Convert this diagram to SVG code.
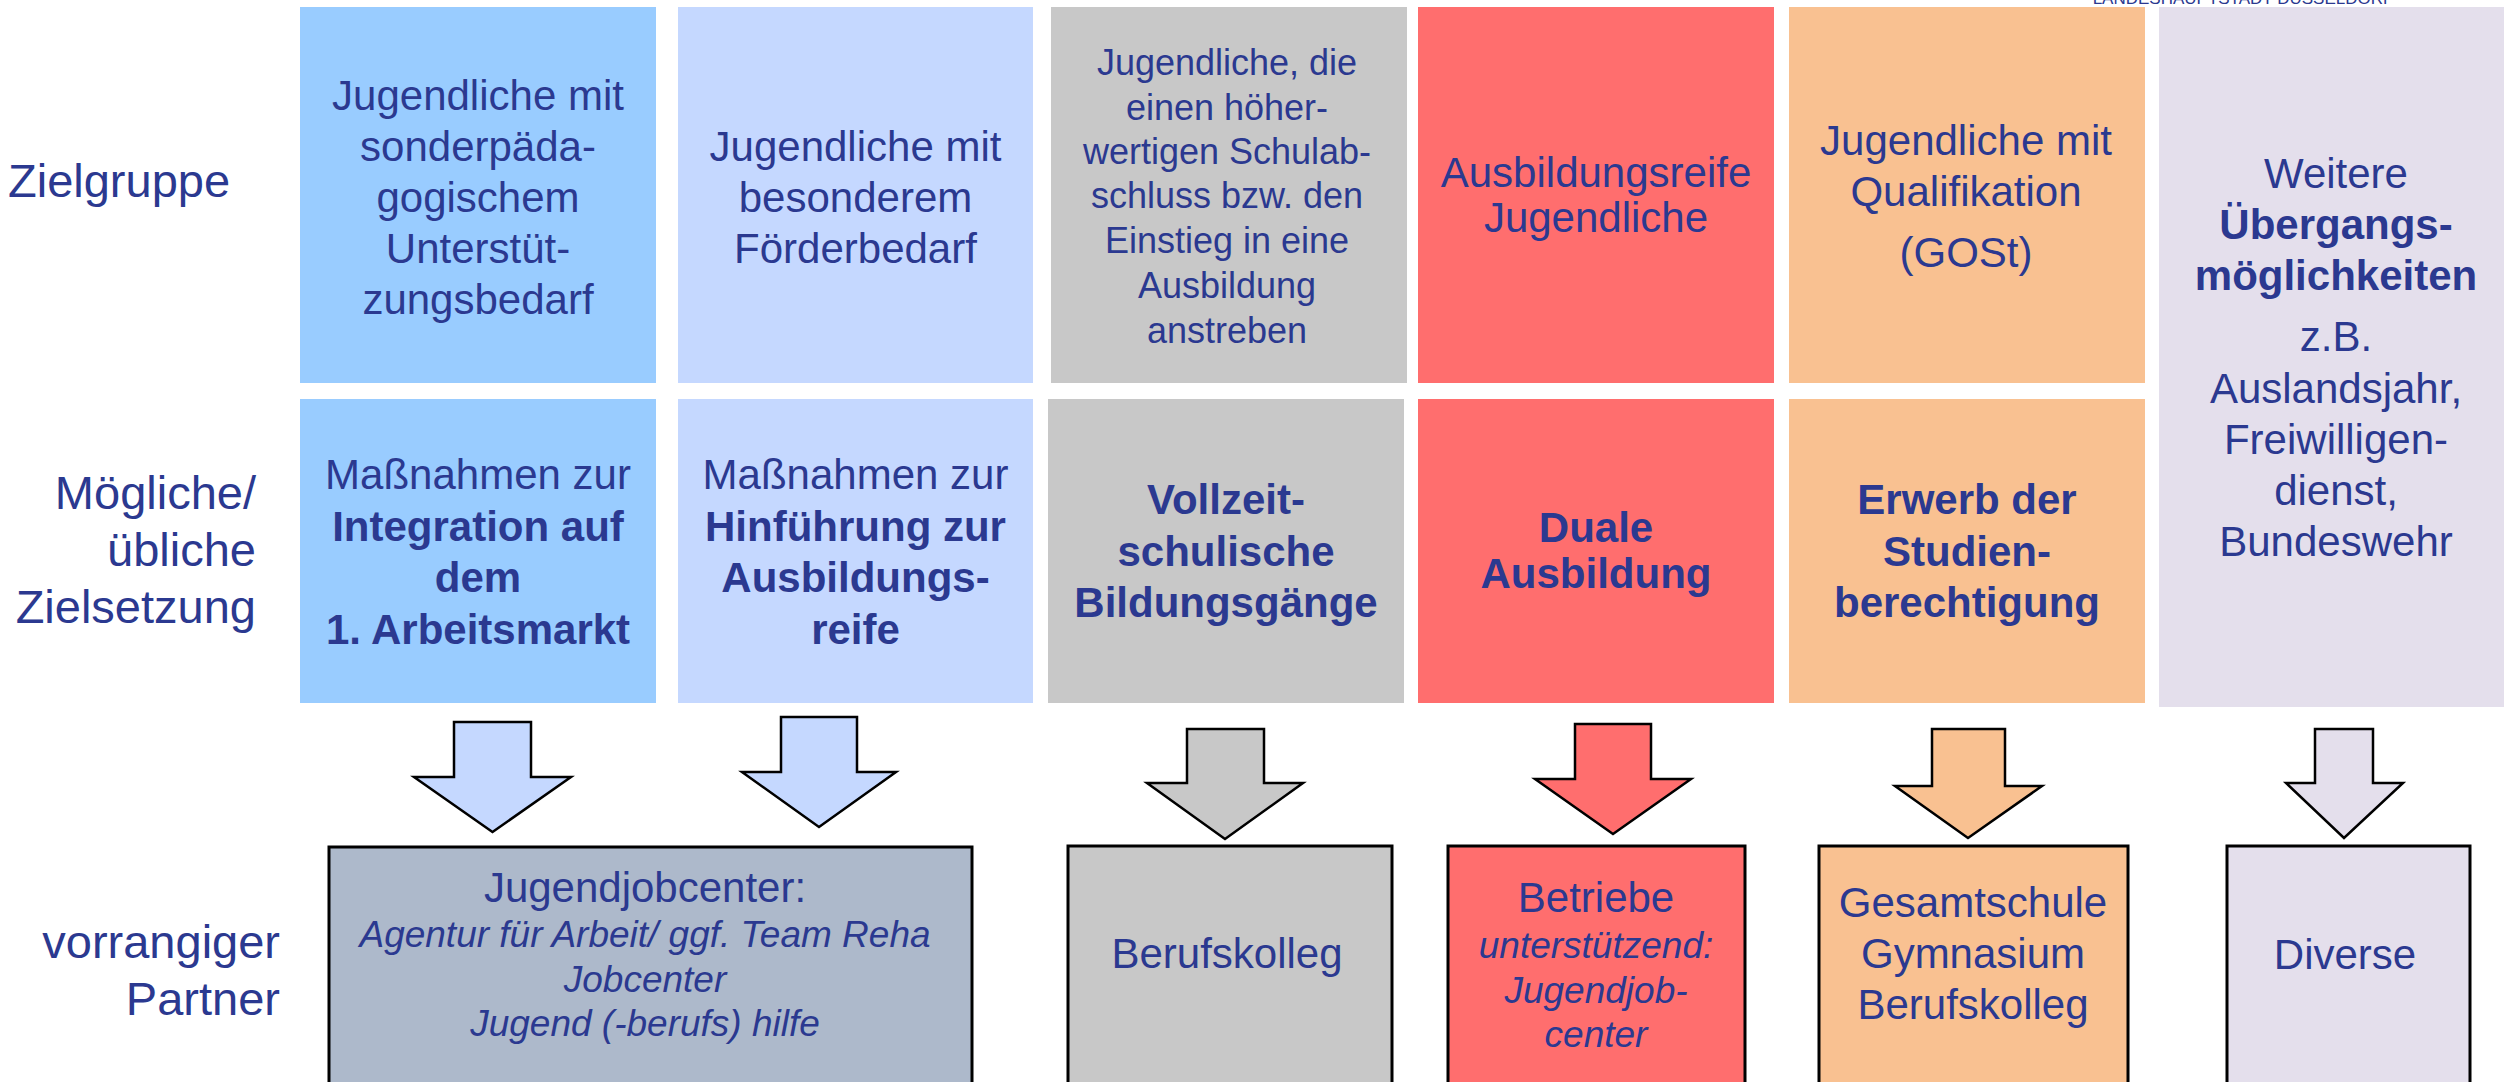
<svg xmlns="http://www.w3.org/2000/svg" width="2504" height="1082" viewBox="0 0 2504 1082">
<style>
text{font-family:"Liberation Sans",Arial,sans-serif;fill:#2B3990;text-anchor:middle}
.lbl{font-size:47px}
.t{font-size:42px}
.s{font-size:36px}
.b{font-weight:bold}
.i{font-style:italic;font-size:37px}
.arr{stroke:#000;stroke-width:2.5;stroke-linejoin:miter}
.pb{stroke:#000;stroke-width:3}
.c1{fill:#99CCFF}.c2{fill:#C5D8FF}.c3{fill:#C8C8C8}.c4{fill:#FF6E6E}.c5{fill:#F9C191}.c6{fill:#E4DFEC}.c7{fill:#ADB9CB}
</style>
<rect x="0" y="0" width="2504" height="1082" fill="#FFFFFF"/>
<text x="2243" y="4" style="font-size:17px">LANDESHAUPTSTADT DÜSSELDORF</text>

<g id="labels">
<text class="lbl" x="8" y="197" style="text-anchor:start">Zielgruppe</text>
<text class="lbl" x="256" y="509" style="text-anchor:end">Mögliche/</text>
<text class="lbl" x="256" y="566" style="text-anchor:end">übliche</text>
<text class="lbl" x="256" y="623" style="text-anchor:end">Zielsetzung</text>
<text class="lbl" x="280" y="958" style="text-anchor:end">vorrangiger</text>
<text class="lbl" x="280" y="1015" style="text-anchor:end">Partner</text>
</g>

<g id="zg1">
<rect class="c1" x="300" y="7" width="356" height="376"/>
<text class="t" x="478" y="110">Jugendliche mit</text>
<text class="t" x="478" y="161">sonderpäda-</text>
<text class="t" x="478" y="212">gogischem</text>
<text class="t" x="478" y="263">Unterstüt-</text>
<text class="t" x="478" y="314">zungsbedarf</text>
</g>
<g id="zg2">
<rect class="c2" x="678" y="7" width="355" height="376"/>
<text class="t" x="855.5" y="161">Jugendliche mit</text>
<text class="t" x="855.5" y="212">besonderem</text>
<text class="t" x="855.5" y="263">Förderbedarf</text>
</g>
<g id="zg3">
<rect class="c3" x="1051" y="7" width="356" height="376"/>
<text class="s" x="1227" y="75">Jugendliche, die</text>
<text class="s" x="1227" y="120">einen höher-</text>
<text class="s" x="1227" y="164">wertigen Schulab-</text>
<text class="s" x="1227" y="208">schluss bzw. den</text>
<text class="s" x="1227" y="253">Einstieg in eine</text>
<text class="s" x="1227" y="298">Ausbildung</text>
<text class="s" x="1227" y="343">anstreben</text>
</g>
<g id="zg4">
<rect class="c4" x="1418" y="7" width="356" height="376"/>
<text class="t" x="1596" y="187">Ausbildungsreife</text>
<text class="t" x="1596" y="232">Jugendliche</text>
</g>
<g id="zg5">
<rect class="c5" x="1789" y="7" width="356" height="376"/>
<text class="t" x="1966" y="155">Jugendliche mit</text>
<text class="t" x="1966" y="206">Qualifikation</text>
<text class="t" x="1966" y="267">(GOSt)</text>
</g>
<g id="zg6">
<rect class="c6" x="2159" y="7" width="345" height="700"/>
<text class="t" x="2336" y="188">Weitere</text>
<text class="t b" x="2336" y="239">Übergangs-</text>
<text class="t b" x="2336" y="290">möglichkeiten</text>
<text class="t" x="2336" y="351">z.B.</text>
<text class="t" x="2336" y="403">Auslandsjahr,</text>
<text class="t" x="2336" y="454">Freiwilligen-</text>
<text class="t" x="2336" y="505">dienst,</text>
<text class="t" x="2336" y="556">Bundeswehr</text>
</g>

<g id="ziel1">
<rect class="c1" x="300" y="399" width="356" height="304"/>
<text class="t" x="478" y="489">Maßnahmen zur</text>
<text class="t b" x="478" y="541">Integration auf</text>
<text class="t b" x="478" y="592">dem</text>
<text class="t b" x="478" y="644">1. Arbeitsmarkt</text>
</g>
<g id="ziel2">
<rect class="c2" x="678" y="399" width="355" height="304"/>
<text class="t" x="855.5" y="489">Maßnahmen zur</text>
<text class="t b" x="855.5" y="541">Hinführung zur</text>
<text class="t b" x="855.5" y="592">Ausbildungs-</text>
<text class="t b" x="855.5" y="644">reife</text>
</g>
<g id="ziel3">
<rect class="c3" x="1048" y="399" width="356" height="304"/>
<text class="t b" x="1226" y="514">Vollzeit-</text>
<text class="t b" x="1226" y="566">schulische</text>
<text class="t b" x="1226" y="617">Bildungsgänge</text>
</g>
<g id="ziel4">
<rect class="c4" x="1418" y="399" width="356" height="304"/>
<text class="t b" x="1596" y="542">Duale</text>
<text class="t b" x="1596" y="588">Ausbildung</text>
</g>
<g id="ziel5">
<rect class="c5" x="1789" y="399" width="356" height="304"/>
<text class="t b" x="1967" y="514">Erwerb der</text>
<text class="t b" x="1967" y="566">Studien-</text>
<text class="t b" x="1967" y="617">berechtigung</text>
</g>

<g id="connectors">
<polygon class="arr c2" points="454,722 531,722 531,777 571,777 492.5,832 414,777 454,777"/>
<polygon class="arr c2" points="781,717 857,717 857,772 896,772 819,827 742,772 781,772"/>
<polygon class="arr c3" points="1187,729 1264,729 1264,783 1303,783 1225,839 1147,783 1187,783"/>
<polygon class="arr c4" points="1575,724 1651,724 1651,779 1691,779 1613,834 1535,779 1575,779"/>
<polygon class="arr c5" points="1932,729 2005,729 2005,786 2042,786 1968,838 1895,786 1932,786"/>
<polygon class="arr c6" points="2315,729 2373,729 2373,783 2403,783 2344,838 2286,783 2315,783"/>
</g>

<g id="p1">
<rect class="pb c7" x="329" y="847" width="643" height="250"/>
<text class="t" x="645" y="902">Jugendjobcenter:</text>
<text class="i" x="645" y="947">Agentur für Arbeit/ ggf. Team Reha</text>
<text class="i" x="645" y="992">Jobcenter</text>
<text class="i" x="645" y="1036">Jugend (-berufs) hilfe</text>
</g>
<g id="p2">
<rect class="pb c3" x="1068" y="846" width="324" height="250"/>
<text class="t" x="1227" y="968">Berufskolleg</text>
</g>
<g id="p3">
<rect class="pb c4" x="1448" y="846" width="297" height="250"/>
<text class="t" x="1596" y="912">Betriebe</text>
<text class="i" x="1596" y="958">unterstützend:</text>
<text class="i" x="1596" y="1003">Jugendjob-</text>
<text class="i" x="1596" y="1047">center</text>
</g>
<g id="p4">
<rect class="pb c5" x="1819" y="846" width="309" height="250"/>
<text class="t" x="1973" y="917">Gesamtschule</text>
<text class="t" x="1973" y="968">Gymnasium</text>
<text class="t" x="1973" y="1019">Berufskolleg</text>
</g>
<g id="p5">
<rect class="pb c6" x="2227" y="846" width="243" height="250"/>
<text class="t" x="2345" y="969">Diverse</text>
</g>
</svg>
